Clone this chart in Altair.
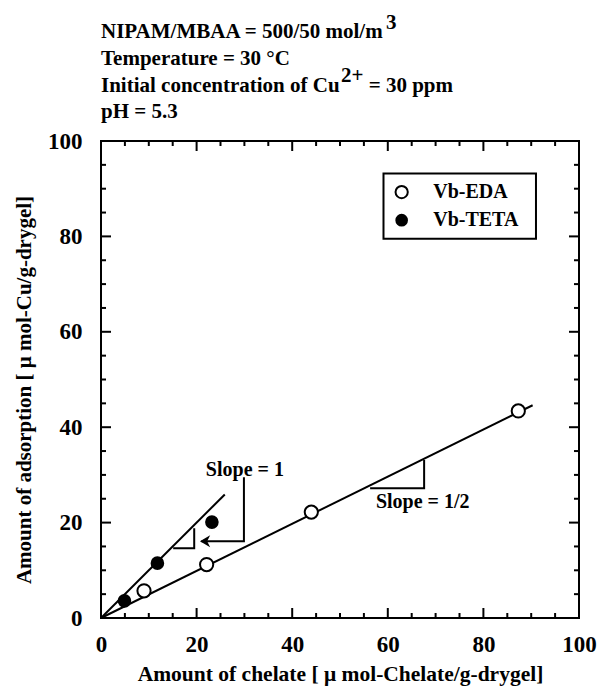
import altair as alt
import pandas as pd

# ---- data ----
eda_x = [9.0, 22.1, 44.0, 87.3]
eda_y = [5.7, 11.2, 22.2, 43.4]
teta_x = [4.9, 11.8, 23.2]
teta_y = [3.6, 11.5, 20.1]

major_ticks = [0, 20, 40, 60, 80, 100]
minor_ticks = [v for v in range(0, 101, 5) if v % 20 != 0]

# fitted / guide lines (x, y vertices)
line_half_x = [0, 90.3]
line_half_y = [0, 44.6]
line_one_x = [0, 25.9]
line_one_y = [0, 25.9]
tri_one_x = [15.1, 19.5, 19.5]
tri_one_y = [14.6, 14.6, 18.8]
tri_half_x = [56.3, 67.6, 67.6]
tri_half_y = [27.2, 27.2, 33.1]
arrow_x = [29.9, 29.9, 21.0]
arrow_y = [29.5, 16.1, 16.1]
arrow_tip = (20.7, 16.1)

slope_labels = ["Slope = 1", "Slope = 1/2"]
slope_lx = [30.1, 67.3]
slope_ly = [31.0, 24.3]

legend_names = ["Vb-EDA", "Vb-TETA"]
legend_box = (59.1, 91.0, 79.5, 93.2)
legend_sym_x = 62.9
legend_txt_x = 69.5
legend_y = [89.3, 83.4]

header_text = ["NIPAM/MBAA = 500/50 mol/m", "3", "Temperature = 30 °C",
               "Initial concentration of Cu", "2+", "= 30 ppm", "pH = 5.3"]
header_x = [0, 59.6, 0, 0, 50.2, 56.0, 0]
header_y = [121.5, 123.4, 115.9, 110.2, 112.3, 110.2, 104.8]

W, H = 478, 477
FONT = "Liberation Serif"

xs = alt.Scale(domain=[0, 100], nice=False, zero=False)
ys = alt.Scale(domain=[0, 100], nice=False, zero=False)

# ---- tables ----
segs = []
def add(name, xsq, ysq):
    for i, (a, b) in enumerate(zip(xsq, ysq)):
        segs.append({"g": name, "o": i, "x": a, "y": b})
add("half", line_half_x, line_half_y)
add("one", line_one_x, line_one_y)
add("tri1", tri_one_x, tri_one_y)
add("tri2", tri_half_x, tri_half_y)
add("arrow", arrow_x, arrow_y)
seg_df = pd.DataFrame(segs)

eda_df = pd.DataFrame({"x": eda_x, "y": eda_y})
teta_df = pd.DataFrame({"x": teta_x, "y": teta_y})
maj_df = pd.DataFrame({"x": major_ticks, "y": major_ticks})
min_df = pd.DataFrame({"x": minor_ticks, "y": minor_ticks})
lab_df = pd.DataFrame({"x": slope_lx, "y": slope_ly, "t": slope_labels})
head_df = pd.DataFrame({"x": header_x, "y": header_y, "t": header_text})
box_df = pd.DataFrame({"x": [legend_box[0]], "x2": [legend_box[1]],
                       "y": [legend_box[2]], "y2": [legend_box[3]]})
leg_df = pd.DataFrame({"x": [legend_sym_x] * 2, "tx": [legend_txt_x] * 2,
                       "y": legend_y, "t": legend_names})
tip_df = pd.DataFrame({"x": [arrow_tip[0]], "y": [arrow_tip[1]]})

axis_common = dict(ticks=False, domain=False, grid=False, labelFont=FONT,
                   labelFontSize=23, labelFontWeight="bold", labelColor="black",
                   labelFlush=False, labelOverlap=False,
                   titleFont=FONT, titleFontWeight="bold",
                   titleColor="black", values=major_ticks)

XAXIS = alt.Axis(title="Amount of chelate [ μ mol-Chelate/g-drygel]", labelPadding=15,
                 titleFontSize=21.5,
                 titleX=W / 2, titleY=62, titleBaseline="alphabetic", titleAlign="center",
                 **axis_common)
YAXIS = alt.Axis(title="Amount of adsorption [ μ mol-Cu/g-drygel]", labelPadding=19,
                 titleFontSize=21,
                 titleX=-71, titleY=H / 2 + 10, titleAngle=270, titleBaseline="alphabetic",
                 titleAlign="center", **axis_common)


def X(f="x"):
    return alt.X(f + ":Q", scale=xs, axis=XAXIS)


def Y(f="y"):
    return alt.Y(f + ":Q", scale=ys, axis=YAXIS)


lines = alt.Chart(seg_df).mark_line(color="black", strokeWidth=2).encode(
    x=X(), y=Y(), detail="g:N", order="o:Q")

tip = alt.Chart(tip_df).mark_point(
    shape="M 0 0 L 1.7 -1 L 1.2 0 L 1.7 1 Z", filled=True, color="black",
    size=144, opacity=1).encode(x=X(), y=Y())

open_pts = alt.Chart(eda_df).mark_point(
    shape="circle", fill="white", stroke="black", strokeWidth=2, size=175,
    opacity=1, fillOpacity=1).encode(x=X(), y=Y())
fill_pts = alt.Chart(teta_df).mark_point(
    shape="circle", filled=True, color="black", size=185, opacity=1).encode(x=X(), y=Y())

slope_txt = alt.Chart(lab_df).mark_text(
    font=FONT, fontSize=20, fontWeight="bold", color="black",
    align="center", baseline="middle").encode(x=X(), y=Y(), text="t:N")

header = alt.Chart(head_df).mark_text(
    font=FONT, fontSize=21, fontWeight="bold", color="black",
    align="left", baseline="alphabetic").encode(x=X(), y=Y(), text="t:N")

box = alt.Chart(box_df).mark_rect(fill="white", stroke="black", strokeWidth=2).encode(
    x=X(), x2="x2:Q", y=Y(), y2="y2:Q")
leg_open = alt.Chart(leg_df.iloc[[0]]).mark_point(
    shape="circle", fill="white", stroke="black", strokeWidth=2, size=150,
    opacity=1, fillOpacity=1).encode(x=X(), y=Y())
leg_fill = alt.Chart(leg_df.iloc[[1]]).mark_point(
    shape="circle", filled=True, color="black", size=160, opacity=1).encode(x=X(), y=Y())
leg_txt = alt.Chart(leg_df).mark_text(
    font=FONT, fontSize=20, fontWeight="bold", color="black",
    align="left", baseline="middle").encode(x=X("tx"), y=Y(), text="t:N")


def ticks_x(df, length, bottom):
    r = alt.Chart(df).mark_rule(color="black", strokeWidth=2)
    if bottom:
        return r.encode(x=X(), y=alt.value(H), y2=alt.value(H - length))
    return r.encode(x=X(), y=alt.value(0), y2=alt.value(length))


def ticks_y(df, length, left):
    r = alt.Chart(df).mark_rule(color="black", strokeWidth=2)
    if left:
        return r.encode(y=Y(), x=alt.value(0), x2=alt.value(length))
    return r.encode(y=Y(), x=alt.value(W), x2=alt.value(W - length))


tick_layers = [ticks_x(maj_df, 10, True), ticks_x(min_df, 5, True),
               ticks_x(maj_df, 10, False), ticks_x(min_df, 5, False),
               ticks_y(maj_df, 10, True), ticks_y(min_df, 5, True),
               ticks_y(maj_df, 10, False), ticks_y(min_df, 5, False)]

chart = alt.layer(
    lines, tip, *tick_layers, open_pts, fill_pts, slope_txt, header,
    box, leg_open, leg_fill, leg_txt
).properties(
    width=W, height=H,
    padding={"left": 101, "top": 141, "right": 26, "bottom": 75},
    autosize=alt.AutoSizeParams(type="none"),
    background="white",
).configure_view(stroke="black", strokeWidth=2)

chart.save("out.html", embed_options={"renderer": "svg", "actions": False})
